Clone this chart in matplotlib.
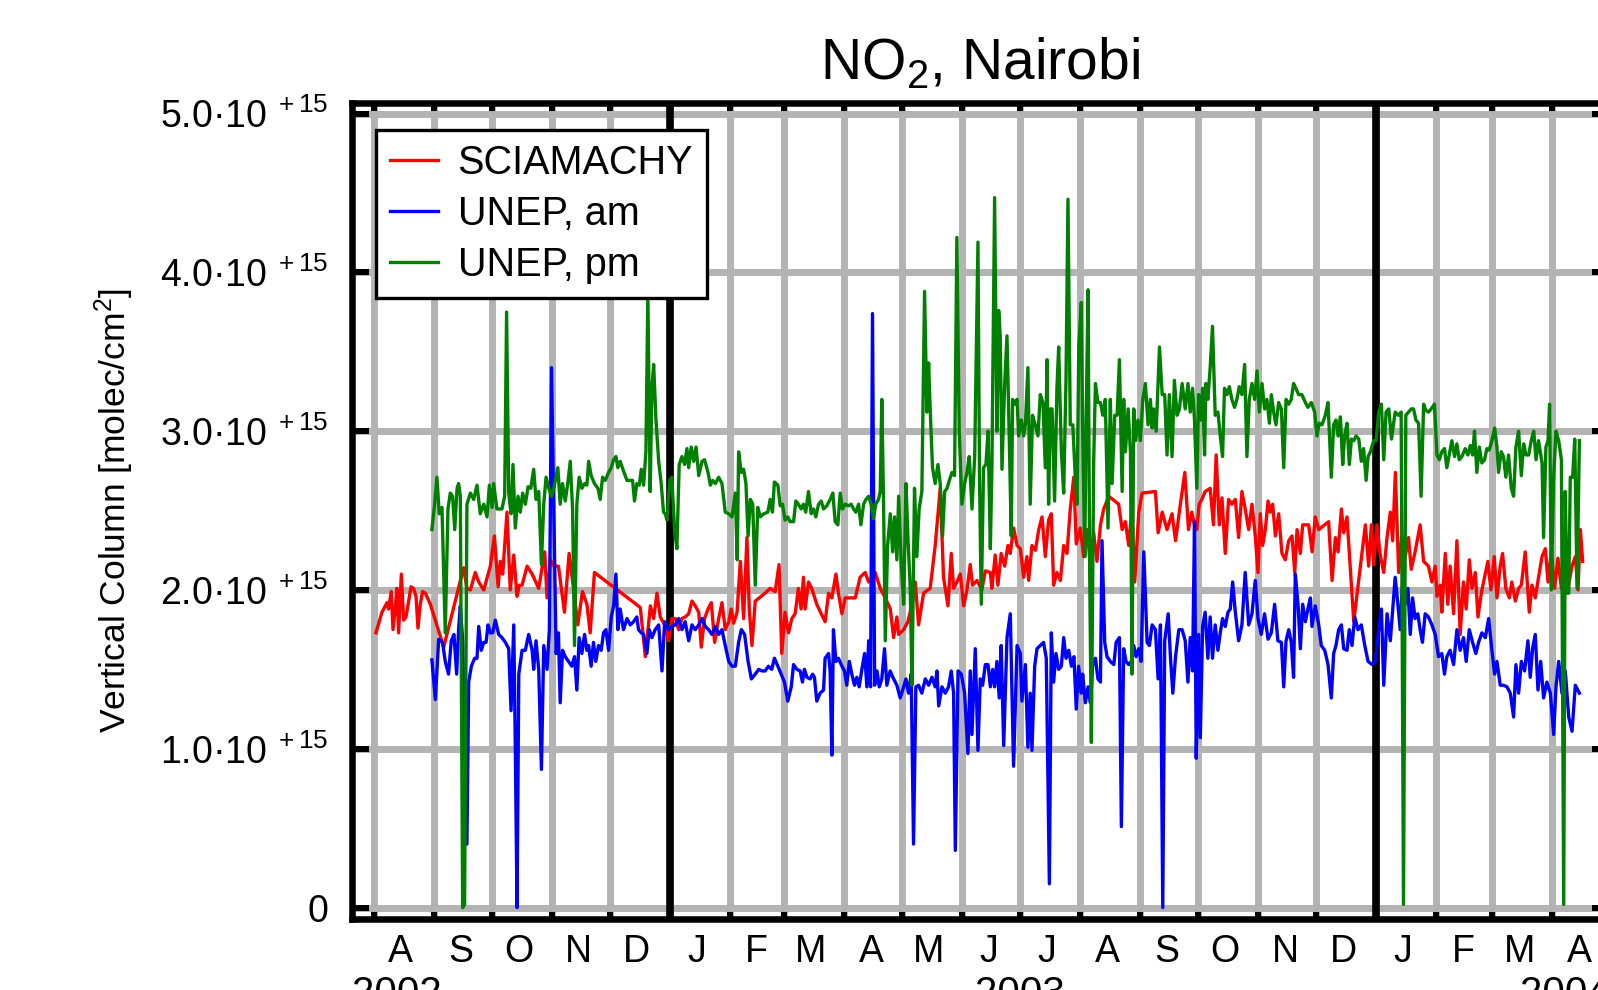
import numpy as np
import matplotlib
matplotlib.use('Agg')
import matplotlib.pyplot as plt
import matplotlib.dates as mdates
from matplotlib.ticker import FixedLocator, FuncFormatter
from datetime import datetime

plt.rcParams['font.family'] = 'Liberation Sans'
plt.rcParams['mathtext.fontset'] = 'custom'
plt.rcParams['mathtext.rm'] = 'Liberation Sans'
plt.rcParams['mathtext.it'] = 'Liberation Sans:italic'

#----------------------------------
# Data: days counted from 2002-07-01, columns in units of 1e15 molec/cm2
t0 = datetime(2002, 7, 1)
scale = 1e15

sci_days = [32.2, 35.3, 37.9, 38.7, 40.1, 41.0, 42.2, 43.0, 43.9, 45.3, 46.5, 47.7, 49.1, 50.3, 51.6, 52.9,
            53.9, 55.1, 56.3, 57.7, 60.3, 67.2, 77.5, 79.2, 81.0, 83.5, 85.3, 87.9, 91.3, 93.4, 95.3, 96.5,
            97.7, 99.9, 101.6, 103.4, 105.1, 106.3, 107.7, 110.3, 112.9, 116.3, 119.4, 120.6, 122.3, 124.1,
            126.5, 129.6, 132.0, 134.3, 136.5, 138.9, 141.2, 142.9, 145.1, 168.8, 171.4, 174.0, 175.7, 177.4,
            179.1, 181.4, 183.4, 185.1, 186.9, 188.6, 190.3, 192.0, 193.8, 195.5, 197.2, 199.0, 200.3, 202.0,
            203.8, 205.5, 207.2, 209.3, 211.0, 212.7, 214.5, 215.8, 217.0, 218.8, 220.5, 222.2, 223.9, 225.1,
            226.5, 228.2, 233.3, 235.9, 238.5, 240.5, 241.9, 243.6, 245.4, 247.1, 248.8, 250.5, 251.9, 253.1,
            254.0, 255.7, 257.4, 260.0, 262.3, 264.3, 266.1, 267.8, 269.9, 271.2, 273.0, 274.7, 277.3, 279.9,
            282.4, 285.0, 286.8, 288.5, 290.2, 292.8, 295.4, 298.0, 299.7, 301.4, 302.3, 304.9, 307.1, 309.2,
            310.9, 312.6, 315.2, 318.6, 321.2, 323.8, 325.5, 327.8, 329.5, 330.7, 332.4, 334.2, 335.9, 337.6,
            339.3, 340.5, 342.8, 345.3, 347.1, 349.7, 350.5, 352.2, 353.6, 355.3, 357.1, 358.8, 360.0, 361.7,
            363.5, 365.2, 366.9, 368.6, 369.5, 371.2, 373.0, 374.7, 376.4, 378.1, 379.8, 381.2, 382.4, 384.1,
            385.9, 387.6, 389.3, 391.0, 392.8, 394.1, 396.2, 397.9, 399.7, 401.4, 403.1, 404.8, 406.6, 408.3,
            410.9, 416.0, 417.8, 419.5, 421.2, 422.9, 424.3, 426.4, 428.1, 435.0, 436.4, 438.5, 441.0, 443.6,
            445.4, 447.9, 450.2, 452.1, 453.8, 455.2, 456.4, 457.6, 459.0, 460.7, 463.3, 465.0, 466.4, 468.0,
            469.4, 471.1, 472.8, 474.5, 476.3, 478.0, 479.7, 481.4, 483.2, 484.9, 486.6, 488.0, 489.2, 490.4,
            491.8, 493.2, 494.4, 495.6, 497.0, 498.7, 500.4, 502.1, 503.9, 505.6, 507.0, 508.2, 509.9, 511.1,
            514.2, 516.0, 517.6, 519.4, 524.5, 526.3, 528.0, 529.4, 531.1, 532.3, 534.0, 537.5, 543.5, 545.2,
            546.6, 547.8, 549.5, 551.3, 553.0, 554.7, 556.4, 557.6, 559.0, 560.7, 562.3, 564.1, 565.8, 567.2,
            569.2, 571.8, 573.6, 576.1, 577.9, 579.6, 580.5, 582.2, 583.0, 584.8, 586.1, 587.3, 589.1, 590.8,
            592.5, 594.2, 595.6, 597.2, 598.6, 600.3, 601.7, 603.4, 605.1, 606.8, 608.4, 610.1, 611.5, 613.2,
            614.4, 616.1, 617.9, 619.2, 621.0, 622.7, 624.1, 626.1, 628.2, 629.6, 631.3, 633.0, 634.8, 636.5,
            637.9, 639.6, 641.3, 643.0, 644.8, 646.5, 648.2, 650.3, 652.0, 653.4, 654.6, 655.8]
sci_vals = [1.73, 1.86, 1.92, 1.88, 1.99, 1.75, 1.89, 2.01, 1.73, 2.10, 1.81, 1.83, 1.93, 2.02, 2.01, 1.96,
            1.76, 1.91, 1.99, 1.98, 1.91, 1.64, 2.14, 2.01, 2.00, 2.11, 2.05, 2.00, 2.15, 2.34, 2.02, 2.18,
            2.10, 2.49, 2.00, 2.22, 1.96, 2.03, 2.03, 2.15, 2.10, 2.01, 2.24, 1.95, 2.19, 2.15,
            2.15, 1.86, 2.23, 2.01, 1.78, 1.99, 1.91, 1.73, 2.11, 1.89, 1.58, 1.90, 1.82, 1.98,
            1.83, 1.78, 1.68, 1.82, 1.82, 1.75, 1.82, 1.83, 1.85, 1.93, 1.90, 1.86, 1.64, 1.82,
            1.88, 1.92, 1.67, 1.82, 1.92, 1.75, 1.80, 1.88, 1.79, 1.86, 2.18, 1.82, 2.33, 1.88,
            1.65, 1.93, 1.98, 2.01, 1.99, 2.16, 1.60, 1.86, 1.73, 1.82, 1.85, 2.01, 1.88, 2.08,
            1.88, 2.05, 2.01, 1.91, 1.85, 1.80, 1.98, 1.95, 2.10, 1.98, 1.85, 1.95, 1.95, 1.95,
            2.08, 2.11, 2.05, 2.08, 2.11, 2.01, 1.95, 1.88, 1.70, 1.83, 1.72, 1.75, 1.80, 1.91,
            2.05, 1.78, 1.98, 2.01, 2.28, 2.64, 2.08, 1.90, 2.23, 2.01, 2.05, 2.10, 1.90, 2.00,
            2.16, 2.03, 2.06, 2.00, 2.12, 2.11, 2.01, 2.22, 2.03, 2.23, 2.15, 2.28, 2.23, 2.39,
            2.28, 2.26, 2.08, 2.21, 2.06, 2.28, 2.25, 2.38, 2.46, 2.21, 2.44, 2.48, 2.03, 2.11,
            2.06, 2.28, 2.23, 2.51, 2.71, 2.29, 2.39, 2.21, 2.38, 2.16, 2.36, 2.18, 2.41, 2.51,
            2.59, 2.54, 2.38, 2.43, 2.28, 2.51, 2.05, 2.49, 2.61, 2.62, 2.36, 2.49, 2.38, 2.48,
            2.31, 2.54, 2.74, 2.38, 2.49, 2.41, 2.38, 2.54, 2.57, 2.62, 2.64, 2.41, 2.85, 2.41,
            2.58, 2.23, 2.57, 2.54, 2.57, 2.33, 2.62, 2.51, 2.38, 2.54, 2.34, 2.11, 2.48, 2.28,
            2.38, 2.56, 2.49, 2.54, 2.34, 2.48, 2.23, 2.19, 2.31, 2.34, 2.11, 2.38, 2.23, 2.41,
            2.41, 2.24, 2.46, 2.38, 2.43, 2.06, 2.33, 2.24, 2.51, 2.36, 2.46, 1.80, 2.41, 2.15,
            2.41, 2.16, 2.41, 2.21, 2.11, 2.33, 2.49, 2.31, 2.74, 2.11, 2.34, 2.21, 2.33, 2.13,
            2.24, 2.41, 2.18, 2.15, 2.05, 2.15, 1.96, 2.03, 1.86, 2.23, 1.91, 2.15, 1.85, 2.31,
            1.72, 2.05, 1.88, 2.19, 2.01, 2.11, 1.83, 1.98, 2.08, 2.18, 2.00, 2.21, 1.95, 2.15,
            2.23, 2.01, 1.95, 2.05, 1.93, 2.01, 2.03, 2.24, 1.86, 2.03, 1.95, 2.08, 2.21, 2.26,
            2.05, 2.24, 2.01, 2.20, 2.01, 2.16, 2.01, 2.15, 2.21, 2.00, 2.38, 2.18]

am_days = [61.1, 62.9, 64.6, 66.6, 68.0, 69.7, 71.1, 72.5, 73.9, 74.9, 75.8, 77.0, 78.0, 79.2, 80.1, 81.5,
           83.2, 84.4, 85.3, 86.6, 87.9, 89.1, 90.1, 91.3, 92.5, 93.9, 95.6, 97.3, 99.1, 100.8, 102.0, 103.4,
           104.2, 105.1, 106.0, 107.7, 109.4, 111.1, 112.9, 113.7, 114.9, 116.3, 117.7, 118.9, 120.6, 121.8,
           122.9, 125.3, 126.5, 127.4, 128.6, 130.0, 131.7, 133.4, 134.8, 136.0, 137.2, 138.6, 140.0, 141.2,
           142.1, 143.4, 144.6, 145.8, 147.2, 148.6, 149.8, 151.0, 152.4, 153.8, 155.0, 156.2, 157.2, 158.4,
           160.1, 161.9, 163.6, 165.3, 167.0, 167.9, 169.3, 170.5, 172.2, 173.4, 174.8, 176.5, 178.3, 180.0,
           181.4, 183.4, 185.1, 186.9, 188.6, 190.3, 192.0, 193.8, 195.5, 197.2, 199.0, 200.7, 202.4, 204.1,
           205.8, 207.6, 209.3, 211.0, 212.7, 214.5, 216.2, 217.9, 219.6, 221.0, 222.7, 224.5, 226.2, 228.2,
           230.0, 231.7, 233.3, 235.0, 236.7, 238.1, 239.9, 241.6, 243.3, 245.0, 246.8, 248.0, 249.7, 251.4,
           252.6, 253.6, 254.9, 256.6, 257.8, 258.8, 260.0, 261.7, 263.5, 264.3, 266.1, 266.9, 267.8, 268.6,
           269.9, 271.2, 273.0, 274.3, 275.5, 276.8, 278.1, 279.5, 280.7, 281.9, 283.3, 284.7, 285.9, 286.8,
           287.8, 288.8, 289.9, 291.1, 292.3, 293.6, 295.0, 296.2, 297.9, 299.7, 301.4, 303.1, 304.9, 306.1,
           307.4, 308.8, 310.0, 311.2, 312.6, 314.3, 316.1, 317.8, 319.5, 321.2, 322.1, 323.0, 324.7, 326.4,
           328.1, 329.5, 330.7, 331.6, 333.0, 334.7, 336.4, 338.1, 339.3, 340.2, 341.9, 343.3, 344.5, 345.7,
           347.1, 348.5, 349.7, 350.9, 351.9, 353.1, 354.3, 355.3, 356.6, 358.3, 360.0, 361.7, 363.5, 365.2,
           366.0, 367.8, 369.1, 370.3, 371.2, 372.6, 373.8, 375.5, 377.2, 378.6, 380.2, 381.2, 382.4, 383.6,
           385.0, 386.4, 387.6, 388.8, 390.2, 391.6, 392.9, 394.1, 395.3, 396.7, 397.4, 398.8, 400.2, 401.4,
           402.6, 404.0, 405.3, 406.6, 407.4, 408.8, 410.0, 411.7, 413.5, 414.7, 416.4, 417.4, 418.6, 419.8,
           421.2, 422.6, 423.8, 425.0, 426.4, 427.6, 429.0, 430.7, 431.9, 433.3, 435.0, 436.4, 437.6, 438.8,
           439.8, 441.6, 442.8, 444.0, 445.4, 447.1, 448.8, 450.4, 451.8, 453.0, 454.2, 455.2, 456.1, 457.3,
           458.2, 459.4, 460.7, 462.1, 463.3, 464.5, 465.9, 467.3, 468.5, 469.7, 471.1, 472.5, 473.7, 474.9,
           476.3, 478.0, 479.7, 481.4, 483.2, 484.9, 486.6, 488.0, 489.7, 491.4, 493.2, 494.9, 496.6, 498.3,
           500.1, 501.3, 502.5, 503.9, 505.2, 506.4, 507.3, 508.7, 509.9, 511.1, 512.5, 513.8, 515.1, 515.9,
           517.6, 519.4, 520.7, 522.5, 524.2, 525.9, 527.1, 528.3, 529.7, 531.1, 532.3, 534.0, 535.2, 536.6,
           538.0, 539.7, 541.4, 543.2, 544.9, 547.0, 548.7, 550.1, 551.8, 553.0, 554.7, 556.4, 558.9, 560.3,
           561.5, 562.7, 564.1, 565.5, 566.7, 567.9, 569.2, 570.6, 571.8, 573.0, 574.4, 576.1, 577.9, 579.6,
           581.3, 583.0, 584.4, 585.6, 587.3, 589.1, 590.8, 592.5, 594.2, 595.6, 597.2, 598.9, 600.6, 602.0,
           603.7, 605.5, 607.2, 608.9, 610.3, 611.5, 613.2, 614.9, 616.7, 618.4, 620.1, 621.3, 622.7, 624.1,
           625.8, 627.5, 628.7, 629.9, 631.3, 632.7, 634.1, 635.6, 637.3, 639.1, 640.8, 642.0, 643.4, 645.1,
           646.8, 648.6, 650.3, 652.0, 654.1]
am_vals = [1.56, 1.31, 1.69, 1.67, 1.55, 1.47, 1.68, 1.72, 1.47, 1.75, 1.90, 1.68, 1.02, 0.40, 1.42, 1.52,
           1.57, 1.57, 1.77, 1.62, 1.67, 1.67, 1.78, 1.73, 1.73, 1.81, 1.72, 1.70, 1.67, 1.63, 1.24, 1.78,
           1.02, 0.00, 1.47, 1.62, 1.62, 1.72, 1.62, 1.50, 1.68, 1.50, 0.87, 1.65, 1.50, 1.75,
           3.40, 1.60, 1.73, 1.29, 1.62, 1.58, 1.55, 1.52, 1.58, 1.37, 1.70, 1.60, 1.72, 1.62,
           1.65, 1.52, 1.67, 1.55, 1.65, 1.62, 1.73, 1.75, 1.62, 1.83, 1.90, 2.10, 1.75, 1.88,
           1.75, 1.82, 1.78, 1.80, 1.83, 1.75, 1.73, 1.72, 1.60, 1.75, 1.70, 1.75, 1.78, 1.49,
           1.80, 1.75, 1.77, 1.78, 1.82, 1.75, 1.80, 1.68, 1.78, 1.75, 1.78, 1.82, 1.77, 1.75,
           1.72, 1.77, 1.72, 1.75, 1.65, 1.55, 1.52, 1.52, 1.67, 1.75, 1.72, 1.55, 1.44, 1.47,
           1.50, 1.49, 1.49, 1.52, 1.50, 1.57, 1.52, 1.47, 1.42, 1.30, 1.39, 1.53, 1.50, 1.49,
           1.42, 1.50, 1.45, 1.44, 1.47, 1.45, 1.30, 1.35, 1.37, 1.57, 1.60, 1.49, 0.96, 1.75,
           1.55, 1.57, 1.52, 1.49, 1.40, 1.55, 1.47, 1.40, 1.45, 1.39, 1.50, 1.60, 1.39, 1.68,
           1.39, 3.74, 1.40, 1.49, 1.39, 1.44, 1.63, 1.40, 1.49, 1.44, 1.40, 1.32, 1.39, 1.44,
           1.35, 1.47, 0.40, 1.39, 1.40, 1.35, 1.44, 1.40, 1.45, 1.39, 1.49, 1.27, 1.39, 1.35,
           1.39, 1.49, 1.35, 0.36, 1.49, 1.47, 1.35, 0.97, 1.49, 1.09, 1.63, 0.99, 1.44, 1.40,
           1.53, 1.53, 1.39, 1.50, 1.39, 1.55, 1.32, 1.65, 1.02, 1.70, 1.85, 0.89, 1.65, 1.60,
           1.30, 1.53, 1.01, 1.35, 0.99, 1.52, 1.63, 1.65, 1.67, 1.57, 0.15, 1.73, 1.42, 1.60,
           1.50, 1.52, 1.70, 1.57, 1.62, 1.52, 1.58, 1.25, 1.52, 1.35, 1.47, 1.29, 1.39, 1.29,
           1.53, 1.57, 1.44, 1.42, 2.31, 1.67, 1.58, 1.55, 1.53, 1.67, 1.70, 0.51, 1.63, 1.55,
           1.53, 1.55, 1.65, 1.58, 1.63, 1.55, 2.24, 1.67, 1.65, 1.78, 1.75, 1.44, 1.78, 0.00,
           1.68, 1.85, 1.57, 1.35, 1.58, 1.75, 1.75, 1.68, 1.42, 1.70, 1.49, 2.43, 0.94, 1.72,
           1.07, 1.77, 1.86, 1.57, 1.83, 1.57, 1.78, 1.62, 1.73, 1.82, 1.77, 1.86, 1.88, 2.05,
           1.86, 1.68, 1.78, 2.11, 1.78, 1.85, 2.06, 1.82, 1.72, 1.85, 1.69, 1.73, 1.91, 1.68,
           1.67, 1.39, 1.68, 1.75, 1.67, 1.45, 2.10, 1.91, 1.63, 1.91, 1.80, 1.88, 1.95, 1.77,
           1.90, 1.78, 1.65, 1.62, 1.53, 1.32, 1.60, 1.65, 1.75, 1.78, 1.63, 1.62, 1.75, 1.65,
           1.83, 1.75, 1.78, 1.65, 1.55, 1.53, 1.55, 1.72, 1.88, 1.40, 1.85, 1.68, 2.08, 1.91,
           1.75, 2.05, 1.91, 2.01, 1.72, 1.95, 1.82, 1.85, 1.75, 1.67, 1.85, 1.83, 1.78, 1.72,
           1.58, 1.60, 1.47, 1.58, 1.62, 1.53, 1.75, 1.62, 1.70, 1.55, 1.75, 1.67, 1.60, 1.67,
           1.73, 1.70, 1.82, 1.62, 1.47, 1.55, 1.40, 1.40, 1.39, 1.35, 1.20, 1.53, 1.35, 1.55,
           1.49, 1.68, 1.45, 1.63, 1.72, 1.37, 1.55, 1.32, 1.42, 1.35, 1.09, 1.39, 1.55, 1.35,
           1.49, 1.20, 1.11, 1.40, 1.35]

pm_days = [61.1, 62.5, 63.7, 64.9, 66.3, 68.0, 69.4, 70.6, 71.8, 72.9, 74.1, 74.9, 75.8, 77.0, 78.0, 79.2,
           81.0, 82.7, 84.4, 86.1, 87.9, 89.6, 90.8, 92.2, 93.0, 94.7, 97.3, 98.7, 99.7, 100.8, 102.0, 103.0,
           104.2, 105.6, 106.8, 108.0, 109.4, 110.8, 112.2, 113.7, 114.9, 116.3, 117.7, 118.9, 120.1, 121.5,
           122.9, 124.1, 126.2, 127.4, 128.6, 130.0, 131.3, 132.6, 133.8, 134.8, 136.0, 137.2, 138.6, 140.0,
           141.2, 142.1, 143.4, 145.1, 146.9, 148.1, 149.3, 150.7, 152.4, 153.8, 155.0, 156.2, 157.2, 158.4,
           160.1, 161.9, 163.6, 164.8, 165.8, 167.0, 168.3, 169.3, 170.5, 171.7, 172.7, 173.9, 174.8, 175.7,
           176.9, 178.3, 179.6, 180.8, 181.7, 182.6, 184.0, 185.1, 186.5, 187.7, 188.9, 190.3, 191.7, 192.9,
           193.8, 195.1, 196.4, 197.6, 199.0, 200.7, 202.0, 203.8, 205.0, 206.2, 207.6, 209.3, 211.0, 212.7,
           214.5, 216.2, 217.9, 218.9, 219.6, 221.0, 222.2, 223.4, 224.5, 225.7, 226.9, 228.2, 229.5, 230.8,
           232.6, 234.7, 235.9, 237.1, 238.1, 239.9, 241.1, 242.3, 243.6, 245.0, 246.2, 248.0, 249.2, 250.5,
           251.9, 253.1, 254.3, 255.7, 257.1, 258.3, 259.5, 260.9, 262.3, 263.5, 265.2, 266.9, 268.3, 269.5,
           270.9, 272.1, 273.3, 274.7, 276.4, 277.8, 279.0, 280.2, 281.6, 282.8, 284.2, 285.4, 286.8, 288.1,
           289.3, 290.5, 291.9, 292.8, 293.6, 294.5, 295.4, 296.6, 298.0, 299.2, 300.2, 301.4, 302.3, 303.6,
           304.9, 306.1, 307.1, 308.3, 309.2, 310.5, 311.7, 312.9, 314.3, 315.7, 316.9, 317.8, 318.6, 319.8,
           321.2, 322.6, 323.8, 325.0, 326.1, 327.3, 328.5, 329.9, 331.2, 332.4, 333.6, 335.0, 336.4, 337.6,
           338.8, 340.2, 341.6, 343.3, 344.1, 345.0, 346.2, 347.4, 348.5, 349.7, 350.5, 351.9, 353.1, 354.0,
           354.8, 355.7, 357.1, 358.3, 359.5, 360.5, 361.2, 362.2, 363.5, 364.3, 365.7, 366.9, 367.8, 369.1,
           370.3, 371.5, 372.9, 374.3, 375.5, 376.9, 378.1, 379.0, 379.8, 380.7, 381.6, 382.9, 384.1, 385.0,
           386.4, 387.6, 388.8, 389.8, 391.0, 392.3, 393.6, 394.5, 395.4, 396.7, 397.4, 398.5, 399.1, 400.2,
           401.0, 401.9, 403.1, 404.0, 405.3, 406.6, 407.8, 409.1, 410.5, 411.7, 412.6, 414.0, 415.2, 416.4,
           417.8, 418.6, 419.5, 420.9, 422.1, 422.9, 423.8, 424.7, 426.0, 427.2, 428.5, 429.8, 431.2, 432.4,
           433.3, 434.1, 435.4, 437.1, 438.5, 439.8, 441.0, 442.2, 443.6, 444.8, 446.2, 447.4, 448.8, 450.4,
           451.8, 453.0, 454.2, 455.2, 456.4, 457.3, 458.5, 459.4, 460.4, 461.1, 462.1, 463.3, 464.5, 465.9,
           467.3, 468.5, 469.7, 470.7, 472.0, 473.2, 474.5, 475.9, 477.1, 478.3, 479.7, 481.1, 482.3, 483.5,
           484.9, 486.3, 487.5, 488.7, 490.1, 491.4, 492.6, 493.9, 494.9, 496.1, 497.3, 498.7, 500.1, 501.3,
           502.5, 503.9, 505.2, 506.4, 507.6, 509.0, 510.7, 512.5, 513.8, 515.6, 517.3, 518.5, 519.7, 521.1,
           522.8, 524.2, 525.9, 527.1, 528.3, 529.4, 530.6, 531.8, 532.8, 534.0, 535.2, 536.3, 537.5, 538.7,
           540.1, 541.4, 542.6, 543.9, 544.9, 546.1, 547.8, 549.0, 550.4, 551.8, 553.0, 554.2, 555.6, 557.0,
           558.9, 560.6, 562.0, 563.2, 564.4, 565.8, 567.2, 568.4, 569.6, 571.0, 572.3, 573.6, 574.8, 576.1,
           577.5, 579.2, 580.5, 581.7, 583.0, 584.4, 585.6, 586.8, 588.2, 589.6, 590.8, 592.0, 593.4, 595.1,
           596.5, 597.7, 598.9, 599.9, 601.1, 602.4, 603.7, 605.1, 606.3, 607.5, 608.9, 610.3, 611.5, 612.3,
           613.7, 614.9, 616.1, 617.5, 618.9, 620.1, 621.3, 622.7, 624.1, 625.3, 626.5, 627.9, 629.2, 630.5,
           631.7, 633.0, 634.8, 635.6, 636.8, 637.9, 638.7, 639.6, 640.8, 642.0, 643.4, 644.8, 646.0, 646.8,
           647.7, 648.6, 649.4, 650.6, 651.7, 652.9, 654.1]
pm_vals = [2.38, 2.54, 2.71, 2.48, 2.52, 1.73, 2.51, 2.61, 2.59, 2.38, 2.64, 2.67, 2.59, 0.00, 0.02, 2.54,
           2.61, 2.57, 2.66, 2.48, 2.54, 2.46, 2.66, 2.52, 2.67, 2.51, 2.51, 2.59, 3.75, 2.61, 2.48, 2.79,
           2.39, 2.59, 2.49, 2.61, 2.54, 2.65, 2.64, 2.76, 2.57, 2.62, 2.16, 2.54, 2.71, 2.64,
           2.59, 2.64, 2.77, 2.54, 2.67, 2.56, 2.67, 2.81, 2.51, 1.65, 2.54, 2.71, 2.64, 2.67,
           2.66, 2.81, 2.72, 2.67, 2.64, 2.57, 2.71, 2.69, 2.74, 2.77, 2.82, 2.84, 2.77, 2.81,
           2.75, 2.69, 2.69, 2.69, 2.56, 2.67, 2.66, 2.76, 2.66, 2.87, 3.86, 2.62, 3.27, 3.42,
           3.07, 2.81, 2.67, 2.49, 2.48, 2.44, 2.69, 2.71, 2.38, 2.26, 2.79, 2.84, 2.79, 2.89,
           2.77, 2.90, 2.81, 2.90, 2.72, 2.81, 2.82, 2.74, 2.66, 2.69, 2.67, 2.71, 2.67, 2.49,
           2.48, 2.46, 2.61, 2.19, 2.87, 2.74, 2.76, 2.67, 2.34, 2.57, 2.54, 2.03, 2.52, 2.46,
           2.48, 2.49, 2.57, 2.49, 2.68, 2.66, 2.53, 2.54, 2.44, 2.46, 2.43, 2.43, 2.56, 2.54,
           2.51, 2.54, 2.49, 2.62, 2.48, 2.51, 2.46, 2.54, 2.56, 2.51, 2.53, 2.57, 2.61, 2.43,
           2.41, 2.61, 2.51, 2.54, 2.53, 2.54, 2.51, 2.49, 2.54, 2.41, 2.54, 2.57, 2.59, 2.54,
           2.45, 2.54, 2.57, 2.62, 3.20, 2.56, 1.68, 2.28, 2.48, 2.24, 2.46, 2.19, 2.59, 2.18,
           1.91, 2.67, 2.33, 2.01, 1.40, 2.64, 2.21, 2.51, 2.62, 3.88, 3.12, 3.43, 3.14, 2.77,
           2.67, 2.79, 2.67, 2.34, 2.62, 2.64, 2.69, 2.74, 2.72, 4.22, 3.00, 2.54, 2.67, 2.74,
           2.84, 2.51, 2.84, 4.19, 2.71, 1.91, 2.77, 2.79, 3.00, 2.26, 2.77, 4.47, 3.00, 3.76,
           3.60, 2.76, 3.30, 3.60, 2.94, 2.34, 3.20, 3.17, 3.20, 2.97, 3.07, 2.97, 3.04, 3.40,
           2.54, 3.10, 3.04, 2.97, 3.23, 3.18, 2.77, 3.45, 2.54, 3.14, 3.14, 2.56, 3.27, 3.53,
           2.87, 2.61, 3.33, 4.46, 3.04, 3.04, 2.71, 2.54, 3.53, 3.81, 3.00, 2.21, 3.00, 3.89,
           2.15, 1.04, 2.81, 3.30, 3.18, 3.18, 3.10, 3.20, 2.39, 3.20, 2.67, 3.10, 3.10, 3.45,
           2.62, 3.20, 2.87, 3.14, 2.87, 1.47, 3.14, 2.94, 3.07, 2.94, 3.20, 3.30, 3.04, 3.20,
           3.02, 3.14, 3.00, 3.53, 3.23, 3.23, 2.85, 3.23, 2.84, 3.32, 3.10, 3.14, 3.30, 3.14,
           3.30, 3.12, 3.27, 3.07, 2.64, 3.23, 3.07, 3.27, 2.85, 3.30, 3.20, 3.40, 3.66, 3.10,
           3.12, 2.97, 2.84, 3.27, 3.23, 3.28, 3.20, 3.15, 3.20, 3.28, 3.23, 3.42, 2.84, 3.20,
           3.30, 3.20, 3.38, 3.12, 3.30, 3.14, 3.20, 3.05, 3.23, 3.12, 3.04, 3.18, 3.14, 2.77,
           3.20, 3.17, 3.20, 3.30, 3.27, 3.23, 3.23, 3.18, 3.15, 3.18, 3.12, 2.97, 3.05, 3.04,
           3.10, 3.18, 2.71, 3.04, 3.07, 2.97, 3.09, 2.79, 2.97, 3.05, 2.79, 2.95, 2.94, 2.97,
           2.95, 2.81, 2.89, 2.69, 2.84, 2.87, 2.94, 2.94, 3.12, 3.17, 2.82, 3.12, 3.14, 2.95,
           3.12, 3.10, 3.12, 0.02, 3.10, 3.12, 3.14, 3.14, 3.07, 3.05, 2.59, 3.17, 3.13, 3.12,
           3.14, 3.17, 2.85, 2.82, 2.87, 2.89, 2.77, 2.85, 2.94, 2.84, 2.92, 2.82, 2.84, 2.89,
           2.85, 2.91, 2.85, 3.00, 2.74, 2.90, 2.80, 2.82, 2.89, 2.88, 2.94, 3.02, 2.90, 2.74,
           2.87, 2.84, 2.71, 2.85, 2.64, 2.59, 2.90, 3.00, 2.72, 2.92, 2.85, 2.85, 2.94, 3.00,
           2.82, 2.94, 2.80, 2.33, 2.90, 2.94, 3.17, 2.00, 2.71, 3.00, 2.94, 2.82, 0.02, 2.62,
           1.98, 1.98, 2.71, 2.71, 2.95, 2.01, 2.94]

series_names = ['SCIAMACHY', 'UNEP, am', 'UNEP, pm']
series_colors = ['red', 'blue', 'green']
month_letters = ['J', 'F', 'M', 'A', 'M', 'J', 'J', 'A', 'S', 'O', 'N', 'D']
years = [2002, 2003, 2004]
y_ticks = [0, 1, 2, 3, 4, 5]

x_start = datetime(2002, 7, 20, 14)
x_end = datetime(2004, 4, 30, 12)

#----------------------------------
def to_num(days):
    return mdates.date2num(t0) + np.asarray(days)

fig = plt.figure(figsize=(15.98, 9.90), dpi=100)
ax = fig.add_axes([0.22, 0.0717, 0.787, 0.8242])

for days, vals, name, col in zip([sci_days, am_days, pm_days], [sci_vals, am_vals, pm_vals],
                                 series_names, series_colors):
    ax.plot(to_num(days), np.asarray(vals) * scale, color=col, lw=2.4, label=name, zorder=3)

# year boundaries drawn as thick black lines
for yr in years[1:]:
    ax.axvline(mdates.date2num(datetime(yr, 1, 1)), color='black', lw=5.5, zorder=2.5)

ax.set_xlim(mdates.date2num(x_start), mdates.date2num(x_end))
ax.set_ylim(-0.072 * scale, 5.066 * scale)

# month boundaries = major ticks + grid, month initials centred mid-month
ax.xaxis.set_major_locator(mdates.MonthLocator())
ax.xaxis.set_major_formatter(FuncFormatter(lambda x, pos: ''))
ax.xaxis.set_minor_locator(mdates.MonthLocator(bymonthday=15))
ax.xaxis.set_minor_formatter(FuncFormatter(lambda x, pos: month_letters[mdates.num2date(x).month - 1]))

ax.yaxis.set_major_locator(FixedLocator([v * scale for v in y_ticks]))
ax.yaxis.set_major_formatter(FuncFormatter(
    lambda v, pos: '0' if v == 0 else '%.1f·10$^{\\ +15}$' % (v / scale)))

ax.grid(True, which='major', color='#b3b3b3', lw=5.0, zorder=0)
ax.set_axisbelow(True)
ax.tick_params(which='major', direction='in', top=True, right=True, width=4.3, color='black')
ax.tick_params(axis='x', which='major', length=10)
ax.tick_params(axis='y', which='major', length=12, pad=17, labelsize=27)
ax.tick_params(axis='x', which='minor', length=0, pad=11, labelsize=27)
for sp in ax.spines.values():
    sp.set_linewidth(4.7)

# year labels centred mid-year, kept inside the axis range
xmin, xmax = ax.get_xlim()
for yr in years:
    mid = mdates.date2num(datetime(yr, 7, 1))
    if mid < xmin:
        xpos, ha = xmin, 'left'
    elif mid > xmax:
        xpos, ha = xmax, 'right'
    else:
        xpos, ha = mid, 'center'
    ax.annotate(str(yr), xy=(xpos, 0), xycoords=('data', 'axes fraction'), xytext=(0, -40),
                textcoords='offset points', ha=ha, va='top', fontsize=29, annotation_clip=False)

ax.set_title('NO$_2$, Nairobi', fontsize=41, pad=17)
fig.text(114 / 1598, 1 - 511 / 990, 'Vertical Column [molec/cm$^2$]', rotation=90,
         ha='center', va='center', fontsize=25.5)

leg = ax.legend(loc='upper left', bbox_to_anchor=(0.0195, 0.967), borderaxespad=0, fontsize=28.5,
                frameon=True, fancybox=False, framealpha=1, edgecolor='black', handlelength=1.2,
                handletextpad=0.5, labelspacing=0.32, borderpad=0.36)
leg.get_frame().set_linewidth(2.4)
leg.set_zorder(5)

fig.savefig('out.png', dpi=100)
